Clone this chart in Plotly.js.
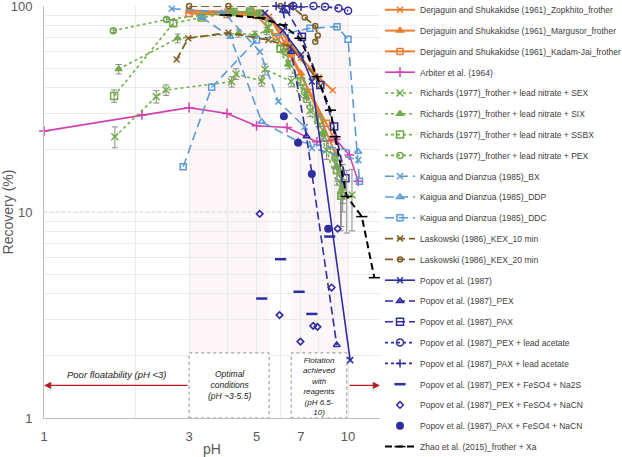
<!DOCTYPE html>
<html><head><meta charset="utf-8">
<script src="https://cdn.plot.ly/plotly-3.0.1.min.js"></script>
<style>html,body{margin:0;padding:0;background:#fff}#chart{width:622px;height:457px}</style>
</head><body><div id="chart"></div>
<script>
// ---- data (pH, recovery %) ----
const zopPH = [3.0, 4.0, 5.0, 5.5, 6.0, 7.0, 8.0, 8.9];
const zopR  = [95, 94, 93, 89, 75, 56, 45, 39];
const margPH = [3.0, 4.0, 5.0, 5.6, 6.2, 7.0, 8.0, 9.1];
const margR  = [94, 93, 92, 85, 66, 47, 30, 19];
const kadPH = [3.0, 4.0, 5.0, 5.8, 6.5, 7.5, 8.5, 9.0];
const kadR  = [92, 91, 90, 71, 56, 38, 27, 22.7];
const arbPH = [1.0, 2.1, 3.0, 4.0, 5.0, 6.3, 7.9, 9.1, 10.1, 10.8];
const arbR  = [24.7, 29.6, 32.1, 30.1, 26.2, 25.7, 21.9, 22.5, 18.9, 14.1];
const sexPH = [1.71, 2.34, 2.52, 4.14, 4.28, 5.2, 5.33, 6.5, 7.5, 8.5, 9.45, 10.3];
const sexR  = [23.2, 36.3, 39.1, 42.9, 46.8, 43.3, 49.3, 43, 31, 20, 12.1, 12.1];
const sexErr = [2.7, 2.5, 2.3, 2.5, 2.8, 2.5, 3, 2.5, 2, 2, 4, 4];
const sixPH = [1.76, 2.75, 4.36, 4.94, 5.4, 6.35, 7.3, 8.3, 9.2, 9.6];
const sixR  = [49.4, 69.7, 73.6, 72.4, 75.6, 52, 36, 24, 16.6, 13];
const sixErr = [2.6, 3.4, 3, 3, 3, 2.5, 2, 2, 2.5, 3];
const ssbxPH = [1.7, 2.66, 3.3, 4.2, 4.76, 5.13, 6.0, 7.0, 8.0, 9.2, 9.5];
const ssbxR  = [36.6, 82.4, 88, 93.6, 94, 91.6, 62, 43, 28, 16, 12];
const ssbxErr = [2.5, 2.5, 2, 2, 2, 2, 2, 2, 2, 2.5, 3.5];
const pexPH = [1.69, 2.53, 4.15, 4.76, 5.13, 5.47, 6.2, 7.2, 8.3, 9.05, 9.6];
const pexR  = [75.9, 86, 93.9, 93.9, 92.1, 82.3, 60, 38, 24, 18.2, 14];
const pexErr = [1.5, 2, 2, 2, 2, 2, 2, 2, 2, 2, 3];
const bxPH = [2.63, 3.9, 5.13, 5.9, 7.2, 7.6, 10.8];
const bxR  = [97, 93, 60, 34.4, 25.9, 20.4, 17.9];
const ddpPH = [3.3, 4.1, 5.2, 6.85, 10.8];
const ddpR  = [88, 71, 27.4, 22, 19.6];
const ddcPH = [2.87, 3.56, 5.0, 7.5, 9.2, 10.0, 10.9];
const ddcR  = [16.6, 40.3, 68.4, 78, 79.4, 68.9, 14.1];
const k10PH = [2.73, 2.98, 4.04, 5.47, 6.45, 7.8, 8.1];
const k10R  = [55, 69.7, 74.2, 68.4, 63.5, 45.5, 41];
const k20PH = [3.0, 4.04, 6.0, 6.5, 7.2, 7.8, 7.95, 7.8];
const k20R  = [100, 100, 100, 100, 88, 80, 72, 67];
const popPH = [5.33, 6.1, 7.0, 7.6, 10.16];
const popR  = [92.5, 76, 58, 43, 1.91];
const popPexPH = [6.1, 6.5, 7.3, 9.18];
const popPexR  = [95, 60, 23.3, 2.26];
const popPaxPH = [6.25, 7.05, 8.1, 9.0, 9.8];
const popPaxR  = [96.5, 71, 41.4, 26, 14.6];
const pexLeadPH = [6.6, 7.7, 8.4, 9.3, 10.0];
const pexLeadR  = [100, 100, 99.3, 97.5, 94.8];
const paxLeadPH = [5.8, 6.2, 6.6, 7.0];
const paxLeadR  = [100, 100, 100, 99];
const na2sPH = [5.2, 6.0, 6.9, 7.6, 8.7];
const na2sR  = [3.8, 5.9, 4.1, 3.2, 7.6];
const nacnPH = [5.12, 5.95, 6.97, 7.68, 7.93, 8.83, 9.24];
const nacnR  = [9.8, 3.16, 2.35, 2.8, 2.77, 4.3, 8.3];
const paxNacnPH = [6.15, 6.85, 7.6, 8.6];
const paxNacnR  = [29.2, 21.7, 15.3, 8.3];
const zhaoPH = [3.94, 5.13, 6.07, 6.95, 7.9, 8.75, 9.06, 9.9, 11.1, 12.2];
const zhaoR  = [90.4, 87.6, 81, 69.7, 45.4, 31.2, 23.2, 11.9, 9.5, 4.8];
const zhaoErr = [0, 0, 0, 0, 0, 0, 0, 4, 0, 0];

const xTickVals = [1, 2, 3, 4, 5, 6, 7, 8, 9, 10];
const xTickText = ['1', '', '3', '', '5', '', '7', '', '', '10'];
const yTickVals = [1,2,3,4,5,6,7,8,9,10,20,30,40,50,60,70,80,90,100];
const yTickText = ['1','','','','','','','','','10','','','','','','','','','100'];

// ---- styles ----
const OR = '#ED7D31', MG = '#D040B0', GR = '#70AD47', BL = '#5B9BD5', BR = '#7F6025', NV = '#2E2EA0', BK = '#000000', EB = '#8a8a8a';
let gi = 0;
function tr(name, x, y, color, dash, width, sym, msize, extra) {
  gi++;
  const t = {
    type: 'scatter', mode: 'lines+markers', name: name, x: x, y: y,
    legendgroup: 'g' + gi, cliponaxis: false,
    line: {color: color, width: width, dash: dash},
    marker: {symbol: sym, size: msize, color: color, line: {color: color, width: 1.5}}
  };
  return Object.assign(t, extra || {});
}
function err(a) { return {error_y: {type: 'data', array: a, visible: true, color: EB, thickness: 1, width: 3}}; }
function mk(name, x, y, color, sym, size, lw) {
  gi++;
  return {type: 'scatter', mode: 'markers', name: name, x: x, y: y, legendgroup: 'g' + gi, cliponaxis: false,
    marker: {symbol: sym, size: size, color: color, line: {color: color, width: lw}}};
}

const data = [
  tr('Derjaguin and Shukakidse (1961)_Zopkhito_frother', zopPH, zopR, OR, 'solid', 2, 'x-thin', 6),
  tr('Derjaguin and Shukakidse (1961)_Margusor_frother', margPH, margR, OR, 'solid', 2, 'triangle-up', 6),
  tr('Derjaguin and Shukakidse (1961)_Kadam-Jai_frother', kadPH, kadR, OR, 'solid', 2, 'square-open', 6),
  tr('Arbiter et al. (1964)', arbPH, arbR, MG, 'solid', 1.6, 'cross-thin', 7),
  tr('Richards (1977)_frother + lead nitrate + SEX', sexPH, sexR, GR, 'dot', 1.6, 'x-thin', 7, err(sexErr)),
  tr('Richards (1977)_frother + lead nitrate + SIX', sixPH, sixR, GR, 'dot', 1.6, 'triangle-up', 6, err(sixErr)),
  tr('Richards (1977)_frother + lead nitrate + SSBX', ssbxPH, ssbxR, GR, 'dot', 1.6, 'square-open', 7, err(ssbxErr)),
  tr('Richards (1977)_frother + lead nitrate + PEX', pexPH, pexR, GR, 'dot', 1.6, 'circle-open', 6, err(pexErr)),
  tr('Kaigua and Dianzua (1985)_BX', bxPH, bxR, BL, '9px,5px', 1.6, 'x-thin', 6),
  tr('Kaigua and Dianzua (1985)_DDP', ddpPH, ddpR, BL, '9px,5px', 1.6, 'triangle-up-open', 6),
  tr('Kaigua and Dianzua (1985)_DDC', ddcPH, ddcR, BL, '9px,5px', 1.6, 'square-open', 6),
  tr('Laskowski (1986)_KEX_10 min', k10PH, k10R, BR, '8px,4px', 1.8, 'x-thin', 6),
  tr('Laskowski (1986)_KEX_20 min', k20PH, k20R, BR, '8px,4px', 1.8, 'circle-open', 5),
  tr('Popov et al. (1987)', popPH, popR, NV, 'solid', 1.6, 'x-thin', 6),
  tr('Popov et al. (1987)_PEX', popPexPH, popPexR, NV, '8px,4px', 1.6, 'triangle-up-open', 6),
  tr('Popov et al. (1987)_PAX', popPaxPH, popPaxR, NV, '8px,4px', 1.6, 'square-open', 7),
  tr('Popov et al. (1987)_PEX + lead acetate', pexLeadPH, pexLeadR, NV, 'dot', 1.8, 'circle-open', 7),
  tr('Popov et al. (1987)_PAX + lead acetate', paxLeadPH, paxLeadR, NV, 'dot', 1.8, 'cross-thin', 6),
  mk('Popov et al. (1987)_PEX + FeSO4 + Na2S', na2sPH, na2sR, NV, 'line-ew', 8, 2.5),
  mk('Popov et al. (1987)_PEX + FeSO4 + NaCN', nacnPH, nacnR, NV, 'diamond-open', 5, 1.6),
  mk('Popov et al. (1987)_PAX + FeSO4 + NaCN', paxNacnPH, paxNacnR, NV, 'circle', 8, 0),
  tr('Zhao et al. (2015)_frother + Xa', zhaoPH, zhaoR, BK, '7px,4px', 2, 'line-ew', 8, err(zhaoErr))
];

const L = Math.log10;
const txtFont = {family: 'Liberation Sans, Arial, sans-serif', size: 8.5, color: '#222'};
const txtFont2 = {family: 'Liberation Sans, Arial, sans-serif', size: 8, color: '#222'};
const layout = {
  width: 622, height: 457,
  margin: {l: 44, r: 242, t: 6, b: 39, autoexpand: false},
  paper_bgcolor: '#fff', plot_bgcolor: '#fff',
  font: {family: 'Liberation Sans, Arial, sans-serif', color: '#595959'},
  showlegend: true,
  legend: {x: 1.0, xanchor: 'left', y: 1.026, yanchor: 'top', traceorder: 'grouped', tracegroupgap: 1.8,
    maxheight: 2000, font: {size: 8.5, color: '#404040'}, bgcolor: 'rgba(0,0,0,0)'},
  xaxis: {type: 'log', range: [0, 1.105], tickvals: xTickVals, ticktext: xTickText, ticklabeloverflow: 'allow',
    showgrid: true, gridcolor: '#ebebeb', gridwidth: 1, showline: true, linecolor: '#bfbfbf', linewidth: 1,
    ticks: 'outside', ticklen: 6, tickcolor: 'rgba(0,0,0,0)', tickfont: {size: 13, color: '#595959'},
    title: {text: 'pH', font: {size: 14, color: '#595959'}, standoff: 6}},
  yaxis: {type: 'log', range: [0, 2], tickvals: yTickVals, ticktext: yTickText, ticklabeloverflow: 'allow',
    showgrid: true, gridcolor: '#ebebeb', gridwidth: 1, showline: true, linecolor: '#bfbfbf', linewidth: 1,
    ticks: 'outside', ticklen: 8, tickcolor: 'rgba(0,0,0,0)', tickfont: {size: 13, color: '#595959'},
    title: {text: 'Recovery (%)', font: {size: 14, color: '#595959'}, standoff: 6}},
  shapes: [
    {type: 'rect', xref: 'x', yref: 'paper', x0: 3, x1: 5.5, y0: 0, y1: 1, layer: 'below', line: {width: 0}, fillcolor: 'rgba(235,190,210,0.14)'},
    {type: 'rect', xref: 'x', yref: 'paper', x0: 6.5, x1: 10, y0: 0, y1: 1, layer: 'below', line: {width: 0}, fillcolor: 'rgba(235,190,210,0.14)'},
    {type: 'line', xref: 'paper', yref: 'y', x0: 0, x1: 1, y0: 10, y1: 10, layer: 'between', line: {width: 1, color: '#cfcfcf', dash: 'dot'}},
    {type: 'rect', xref: 'x', yref: 'y', x0: 3, x1: 5.5, y0: 1, y1: 2.07, layer: 'between', fillcolor: '#ffffff', line: {width: 1, color: '#8c8c8c', dash: 'dot'}},
    {type: 'rect', xref: 'x', yref: 'y', x0: 6.5, x1: 9.9, y0: 1, y1: 2.07, layer: 'between', fillcolor: '#ffffff', line: {width: 1, color: '#8c8c8c', dash: 'dot'}}
  ],
  annotations: [
    {xref: 'x', yref: 'y', axref: 'x', ayref: 'y', x: 0, y: L(1.44), ax: L(3), ay: L(1.44), text: '', showarrow: true,
     arrowhead: 2, arrowsize: 1.2, arrowwidth: 1.2, arrowcolor: '#B52025'},
    {xref: 'x', yref: 'y', axref: 'x', ayref: 'y', x: 1.105, y: L(1.44), ax: 1.0, ay: L(1.44), text: '', showarrow: true,
     arrowhead: 2, arrowsize: 1.2, arrowwidth: 1.2, arrowcolor: '#B52025'},
    {xref: 'x', yref: 'y', x: 0.240, y: 0.2136, text: '<i>Poor floatability (pH <3)</i>', showarrow: false,
     font: {family: 'Liberation Sans, Arial, sans-serif', size: 9.5, color: '#222'}},
    {xref: 'x', yref: 'y', x: 0.6086, y: 0.160, text: '<i>Optimal<br>conditions<br>(pH ~3-5.5)</i>', showarrow: false, font: txtFont},
    {xref: 'x', yref: 'y', x: 0.9046, y: 0.152, text: '<i>Flotation<br>achieved<br>with<br>reagents<br>(pH 6.5-<br>10)</i>', showarrow: false, font: txtFont2}
  ]
};
Plotly.newPlot('chart', data, layout, {displayModeBar: false, staticPlot: true});
</script></body></html>
